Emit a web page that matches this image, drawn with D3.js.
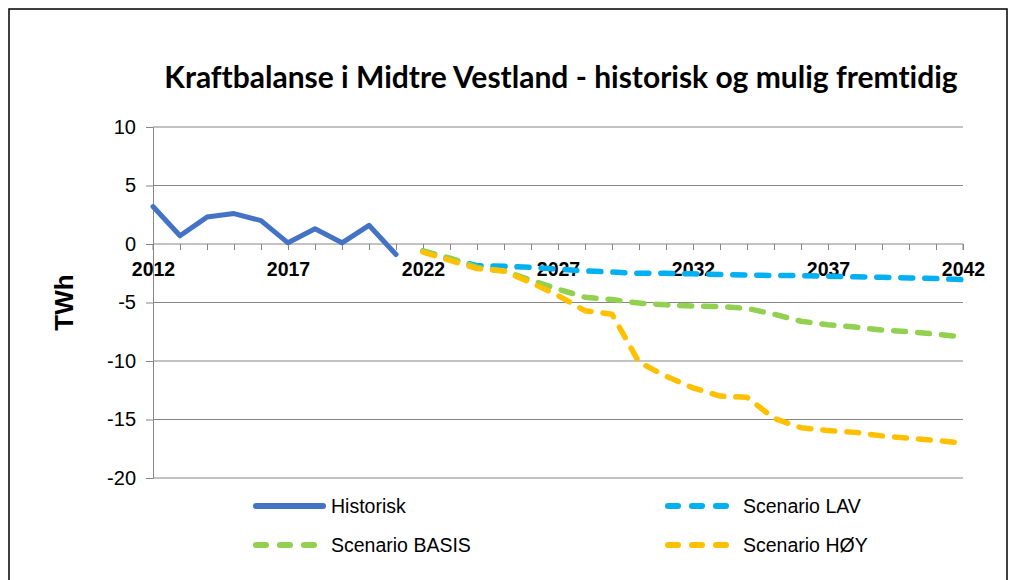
<!DOCTYPE html>
<html lang="no">
<head>
  <meta charset="UTF-8">
  <title>Kraftbalanse i Midtre Vestland</title>
  <script src="https://d3js.org/d3.v7.min.js"></script>
  <style>
    body {
      margin: 0;
      background: #ffffff;
      font-family: "Liberation Sans", Arial, sans-serif;
    }
    svg { display: block; }
  </style>
</head>
<body>
  <div id="chart"></div>

  <script>
    const years = d3.range(2012, 2043);
    const labelYears = [2012, 2017, 2022, 2027, 2032, 2037, 2042];
    const yTicks = [-20, -15, -10, -5, 0, 5, 10];

    // historisk 2012-2021
    const historisk = [3.2, 0.7, 2.3, 2.6, 2.0, 0.1, 1.3, 0.1, 1.6, -0.9];
    // scenarier 2022-2042
    const lav = [-0.6, -1.3, -1.85, -1.9, -2.0, -2.15, -2.3, -2.4, -2.5, -2.5, -2.55,
                 -2.6, -2.65, -2.7, -2.7, -2.75, -2.8, -2.85, -2.9, -2.95, -3.05];
    const basis = [-0.6, -1.2, -2.0, -2.3, -3.1, -3.85, -4.55, -4.75, -5.05, -5.2, -5.3,
                   -5.35, -5.5, -6.0, -6.6, -6.9, -7.1, -7.35, -7.5, -7.7, -7.95];
    const hoy = [-0.7, -1.4, -2.1, -2.3, -3.3, -4.4, -5.7, -6.0, -10.1, -11.3, -12.3,
                 -13.0, -13.1, -14.9, -15.7, -15.95, -16.1, -16.4, -16.6, -16.8, -17.0];

    const width = 1009, height = 580;
    const svg = d3.select("#chart").append("svg")
      .attr("width", width)
      .attr("height", height);

    // ramme
    svg.append("rect")
      .attr("x", 9).attr("y", 9)
      .attr("width", 998).attr("height", 590)
      .attr("fill", "none")
      .attr("stroke", "#000")
      .attr("stroke-width", 1.5);

    const x = d3.scalePoint().domain(years).range([153, 963]);
    const y = d3.scaleLinear().domain([-20, 10]).range([478, 127]);

    // rutenett
    svg.append("g")
      .selectAll("line")
      .data(yTicks.filter(d => d !== 0))
      .join("line")
      .attr("x1", x(2012)).attr("x2", x(2042))
      .attr("y1", d => y(d)).attr("y2", d => y(d))
      .attr("stroke", "#868686")
      .attr("stroke-width", 1);

    // y-akse
    const yAxis = svg.append("g")
      .attr("transform", `translate(${x(2012)},0)`)
      .call(d3.axisLeft(y).tickValues(yTicks).tickSize(7).tickPadding(10).tickFormat(d => String(d)));
    yAxis.select(".domain").attr("stroke", "#868686");
    yAxis.selectAll(".tick line").attr("stroke", "#868686");
    yAxis.selectAll("text")
      .attr("font-family", "'Liberation Sans', Arial, sans-serif")
      .attr("font-size", 20)
      .attr("fill", "#000");

    // x-akse ved 0
    const xAxis = svg.append("g")
      .attr("transform", `translate(0,${y(0)})`)
      .call(d3.axisBottom(x).tickSize(6).tickPadding(12)
        .tickFormat(d => labelYears.includes(d) ? d : ""));
    xAxis.select(".domain").attr("stroke", "#868686").attr("d", `M${x(2012)},6V0H${x(2042)}V6`);
    xAxis.selectAll(".tick line").attr("stroke", "#868686");
    xAxis.selectAll("text")
      .attr("font-family", "'Liberation Sans', Arial, sans-serif")
      .attr("font-size", 19.5)
      .attr("font-weight", "bold")
      .attr("fill", "#000");

    const line = d3.line()
      .x(d => x(d.year))
      .y(d => y(d.value));

    const series = [
      { name: "Historisk", values: historisk, start: 2012, color: "#4472C4", dash: null },
      { name: "Scenario LAV", values: lav, start: 2022, color: "#00B0F0", dash: "12 12" },
      { name: "Scenario BASIS", values: basis, start: 2022, color: "#92D050", dash: "12 12" },
      { name: "Scenario HØY", values: hoy, start: 2022, color: "#FFC000", dash: "12 12" }
    ];

    series.forEach(s => {
      const pts = s.values.map((v, i) => ({ year: s.start + i, value: v }));
      svg.append("path")
        .datum(pts)
        .attr("fill", "none")
        .attr("stroke", s.color)
        .attr("stroke-width", s.dash ? 5.5 : 5)
        .attr("stroke-linecap", "round")
        .attr("stroke-linejoin", "round")
        .attr("stroke-dasharray", s.dash)
        .attr("d", line);
    });

    // titler
    svg.append("text")
      .attr("x", 561).attr("y", 88)
      .attr("text-anchor", "middle")
      .attr("font-family", "Lato, 'Open Sans', sans-serif")
      .attr("font-weight", "bold")
      .attr("font-size", 30)
      .style("font-variant-ligatures", "none")
      .text("Kraftbalanse i Midtre Vestland - historisk og mulig fremtidig");

    svg.append("text")
      .attr("transform", `translate(73,${(y(10) + y(-20)) / 2}) rotate(-90)`)
      .attr("text-anchor", "middle")
      .attr("font-family", "'Liberation Sans', Arial, sans-serif")
      .attr("font-weight", "bold")
      .attr("font-size", 26)
      .text("TWh");

    // tegnforklaring
    const legendPos = [
      { x: 256, y: 506 }, { x: 668, y: 506 },
      { x: 256, y: 545 }, { x: 668, y: 545 }
    ];
    const legend = svg.append("g");
    series.forEach((s, i) => {
      const p = legendPos[i];
      const g = legend.append("g").attr("transform", `translate(${p.x},${p.y})`);
      g.append("line")
        .attr("x1", 0).attr("x2", s.dash ? 60 : 67)
        .attr("stroke", s.color)
        .attr("stroke-width", 6)
        .attr("stroke-linecap", "round")
        .attr("stroke-dasharray", s.dash ? "10 14" : null);
      g.append("text")
        .attr("x", 75)
        .attr("y", 0)
        .attr("dy", "0.35em")
        .attr("font-family", "'Liberation Sans', Arial, sans-serif")
        .attr("font-size", 19.5)
        .attr("fill", "#000")
        .text(s.name);
    });
  </script>
</body>
</html>
